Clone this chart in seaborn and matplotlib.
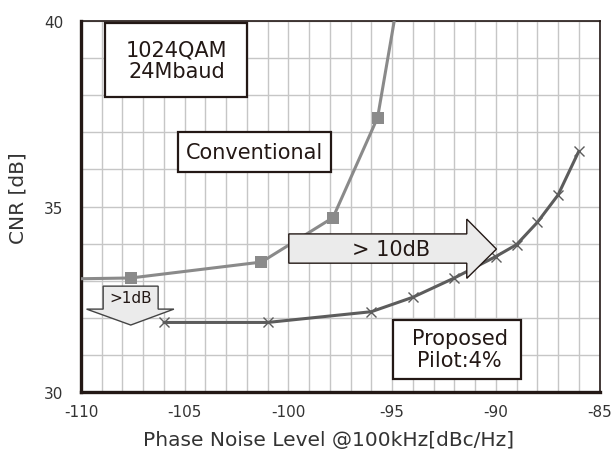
import numpy as np
import matplotlib
matplotlib.use("Agg")
import matplotlib.pyplot as plt
import seaborn as sns
from matplotlib.patches import Polygon, Rectangle

# data
conv_x = [-110.0, -107.6, -101.3, -97.85, -95.7, -94.9]
conv_y = [33.05, 33.07, 33.5, 34.7, 37.4, 40.0]
conv_marked = [1, 2, 3, 4]

prop_x = [-106.0, -101.0, -96.0, -94.0, -92.0, -90.0, -89.0, -88.0, -87.0, -86.0]
prop_y = [31.87, 31.87, 32.16, 32.55, 33.07, 33.65, 33.97, 34.57, 35.31, 36.49]

x_ticks = [-110, -105, -100, -95, -90, -85]
y_ticks = [30, 35, 40]

ink = "#231815"
txt = "#333333"

sns.set_style("white")
plt.rcParams["font.family"] = ["DejaVu Sans"]
plt.rcParams["axes.unicode_minus"] = False

fig = plt.figure(figsize=(6.13, 4.56), dpi=100)
ax = fig.add_axes([0.1321, 0.1388, 0.8459, 0.8123])

sns.lineplot(x=conv_x, y=conv_y, ax=ax, sort=False, color="#8a8a8a", lw=2.2,
             marker="s", markersize=8.5, markevery=conv_marked,
             markeredgewidth=0, markerfacecolor="#8a8a8a", zorder=3)
sns.lineplot(x=prop_x, y=prop_y, ax=ax, sort=False, color="#5c5c5c", lw=2.2,
             marker="x", markersize=7.5, markeredgewidth=1.0,
             markeredgecolor="#5c5c5c", zorder=3)

ax.set_xlim(-110, -85)
ax.set_ylim(30, 40)
ax.set_xticks(x_ticks)
ax.set_yticks(y_ticks)
ax.set_xticks(np.arange(-110, -84, 1), minor=True)
ax.set_yticks(np.arange(30, 41, 1), minor=True)
ax.grid(True, which="both", color="#c6c6c6", lw=1.0, zorder=0)
ax.set_axisbelow(True)

for side in ["left", "bottom"]:
    ax.spines[side].set_linewidth(2.4)
    ax.spines[side].set_color(ink)
for side in ["top", "right"]:
    ax.spines[side].set_linewidth(1.2)
    ax.spines[side].set_color(ink)
    ax.spines[side].set_visible(True)

ax.tick_params(axis="both", which="major", direction="in", length=3, width=2,
               color=ink, labelsize=11, labelcolor=txt)
ax.tick_params(axis="x", which="major", pad=8.5)
ax.tick_params(axis="y", which="major", pad=12.5)
ax.tick_params(axis="both", which="minor", length=0)

ax.set_xlabel("Phase Noise Level @100kHz[dBc/Hz]", fontsize=14.5, color=txt)
ax.set_ylabel("CNR [dB]", fontsize=14.5, color=txt)
ax.xaxis.set_label_coords(0.478, -0.104)
ax.yaxis.set_label_coords(-0.104, 0.526)

# text boxes
for (x0, x1, y0, y1) in [(-108.84, -102.01, 37.95, 39.95),
                         (-105.31, -97.95, 35.94, 37.02),
                         (-94.98, -88.80, 30.34, 31.94)]:
    ax.add_patch(Rectangle((x0, y0), x1 - x0, y1 - y0, facecolor="white",
                           edgecolor=ink, lw=1.6, zorder=5))
ax.text(-105.4, 38.95, "1024QAM\n24Mbaud", ha="center", va="center",
        fontsize=15, color=ink, zorder=6, linespacing=1.1)
ax.text(-101.63, 36.48, "Conventional", ha="center", va="center",
        fontsize=15, color=ink, zorder=6)
ax.text(-91.74, 31.15, "Proposed\nPilot:4%", ha="center", va="center",
        fontsize=15, color=ink, zorder=6, linespacing=1.15)

# big right arrow
big = [(-99.98, 34.26), (-91.4, 34.26), (-91.4, 34.66), (-89.97, 33.85),
       (-91.4, 33.06), (-91.4, 33.47), (-99.98, 33.47)]
ax.add_patch(Polygon(big, closed=True, facecolor="#ebebeb", edgecolor=ink,
                     lw=1.0, zorder=4))
ax.text(-95.03, 33.86, "> 10dB", ha="center", va="center", fontsize=15,
        color=ink, zorder=6)

# small down arrow
small = [(-108.93, 32.85), (-106.28, 32.85), (-106.28, 32.23), (-105.52, 32.23),
         (-107.6, 31.80), (-109.73, 32.23), (-108.93, 32.23)]
ax.add_patch(Polygon(small, closed=True, facecolor="#ebebeb", edgecolor="#444444",
                     lw=1.0, zorder=4))
ax.text(-107.6, 32.55, ">1dB", ha="center", va="center", fontsize=11,
        color=ink, zorder=6)

fig.savefig("out.png", dpi=100)
